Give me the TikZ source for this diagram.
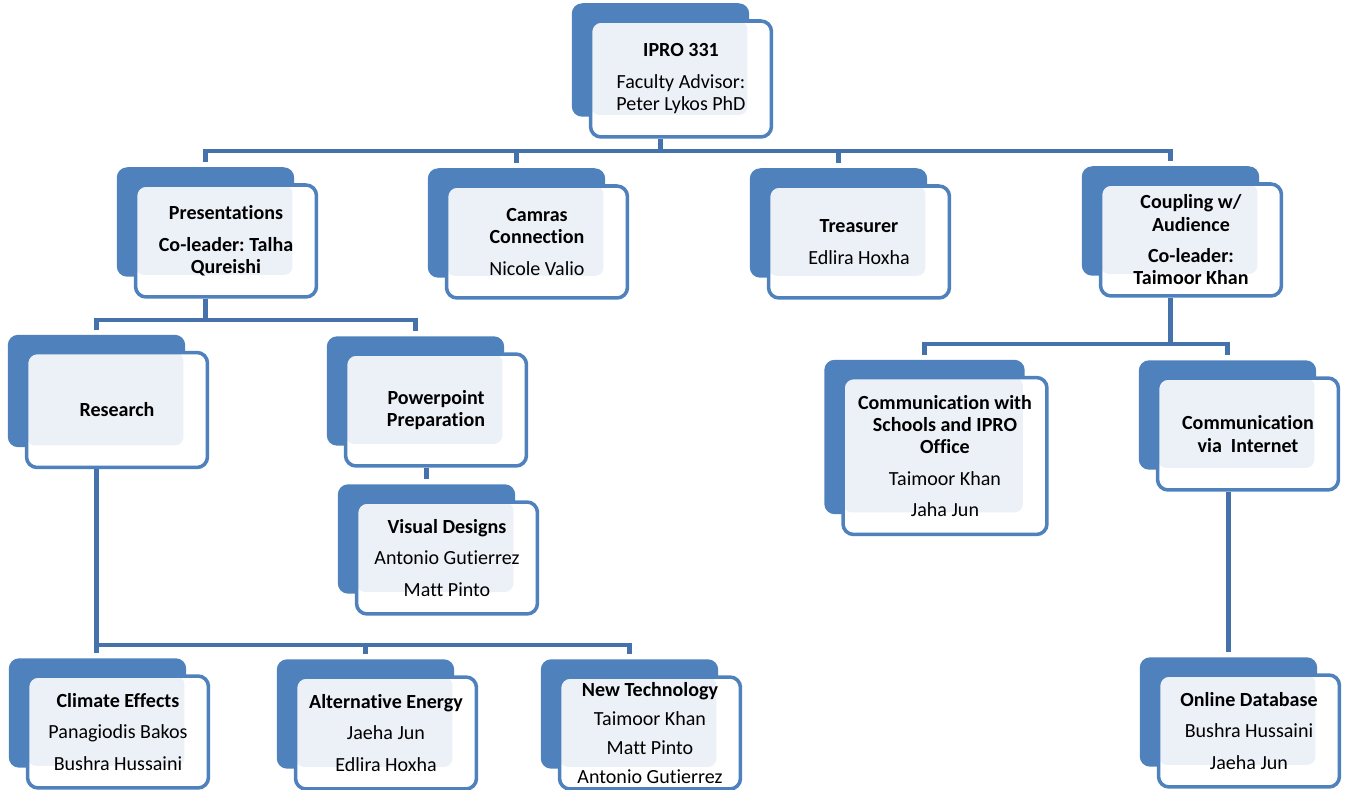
\documentclass[tikz,border=0pt]{standalone}
\usepackage{fontspec}
\setmainfont{Carlito}[Ligatures={NoCommon, NoContextual}]
\frenchspacing
\usetikzlibrary{calc, backgrounds}
\definecolor{boxblue}{HTML}{4F81BD}
\definecolor{boxlight}{HTML}{ECF0F7}
\definecolor{wireblue}{HTML}{4672AB}
\tikzset{
    my-box/.style={
        draw=boxblue, line width=2pt, fill=white, rounded corners=6pt,
        minimum width=3.62cm, minimum height=2.24cm, inner sep=2pt,
        align=center, font=\fontsize{11.4}{12.6}\selectfont,
        path picture={
            \fill[boxlight, rounded corners=5pt] (path picture bounding box.north west)
                rectangle ($(path picture bounding box.south east) + (-24, -22)$);
        }
    },
    my-back/.style={
        fill=boxblue, rounded corners=6pt
    },
    my-wire/.style={
        draw=wireblue, line width=2.4pt
    },
}

\begin{document}
\begin{tikzpicture}[x=0.02cm, y=-0.02cm]
        \useasboundingbox (0, 0) rectangle (1347, 790);

        % TOP BOX
        \node[my-box, minimum height=2.32cm] (IPRO) at (681, 79)
            {\textbf{IPRO 331}\\[5.5pt] Faculty Advisor:\\ Peter Lykos PhD};

        % SECOND ROW
        \node[my-box] (PRES)     at (226, 241)               {\textbf{Presentations}\\[5.5pt] \textbf{Co-leader: Talha}\\ \textbf{Qureishi}};
        \node[my-box] (CAMRAS)   at ($(PRES) + (311, 1)$)    {\textbf{Camras}\\ \textbf{Connection}\\[5.5pt] Nicole Valio};
        \node[my-box] (TREAS)    at ($(CAMRAS) + (322, 0)$)  {\textbf{Treasurer}\\[5.5pt] Edlira Hoxha};
        \node[my-box] (COUPLING) at (1191, 240)              {\textbf{Coupling w/}\\ \textbf{Audience}\\[5.5pt] \textbf{Co-leader:}\\ \textbf{Taimoor Khan}};

        % THIRD ROW
        \node[my-box, minimum height=2.3cm] (RESEARCH) at (117, 410)  {\textbf{Research}};
        \node[my-box] (PPT)      at (436, 410)               {\textbf{Powerpoint}\\ \textbf{Preparation}};
        \node[my-box] (VISUAL)   at ($(PPT) + (11, 148)$)    {\textbf{Visual Designs}\\[5.5pt] Antonio Gutierrez\\[5.5pt] Matt Pinto};
        \node[my-box, minimum width=4.08cm, minimum height=3.14cm] (COMMSCH) at (945, 456)
            {\textbf{Communication with}\\ \textbf{Schools and IPRO}\\ \textbf{Office}\\[5.5pt] Taimoor Khan\\[5.5pt] Jaha Jun};
        \node[my-box] (COMMNET)  at (1248, 434)              {\textbf{Communication}\\ \textbf{via\ \ Internet}};

        % BOTTOM ROW
        \node[my-box] (CLIMATE)  at (118, 732)               {\textbf{Climate Effects}\\[5.5pt] Panagiodis Bakos\\[5.5pt] Bushra Hussaini};
        \node[my-box] (ALT)      at ($(CLIMATE) + (268, 1)$) {\textbf{Alternative Energy}\\[5.5pt] Jaeha Jun\\[5.5pt] Edlira Hoxha};
        \node[my-box] (NEWTECH)  at ($(ALT) + (264, 0)$)     {\textbf{New Technology}\\[4pt] Taimoor Khan\\[4pt] Matt Pinto\\[4pt] Antonio Gutierrez};
        \node[my-box] (ONLINE)   at (1249, 731)              {\textbf{Online Database}\\[5.5pt] Bushra Hussaini\\[5.5pt] Jaeha Jun};

        % BLUE BACKING BOXES AND CONNECTOR POINTS
        \begin{scope}[on background layer]
            \foreach \b in {IPRO, PRES, CAMRAS, TREAS, COUPLING, RESEARCH, PPT, VISUAL,
                            COMMSCH, COMMNET, CLIMATE, ALT, NEWTECH, ONLINE}{
                \fill[my-back] ($(\b.north west) + (-17, -16)$) rectangle ($(\b.south east) + (-24, -22)$);
                \coordinate (\b IN)  at ($(\b.north) + (-20.5, -21)$);
                \coordinate (\b OUT) at ($(\b.south) + (-20.5, 0)$);
            }
        \end{scope}

        % WIRES - TOP LEVEL
        \coordinate (TOPBUS) at ($(IPROOUT) + (0, 12)$);
        \draw[my-wire] (IPROOUT) -- (TOPBUS);
        \draw[my-wire] (PRESIN) |- (TOPBUS) -| (COUPLINGIN);
        \draw[my-wire] (CAMRASIN) -- (CAMRASIN |- TOPBUS);
        \draw[my-wire] (TREASIN) -- (TREASIN |- TOPBUS);

        % WIRES - PRESENTATIONS
        \coordinate (PRESBUS) at ($(PRESOUT) + (0, 21)$);
        \draw[my-wire] (PRESOUT) -- (PRESBUS);
        \draw[my-wire] (RESEARCHIN) |- (PRESBUS) -| (PPTIN);
        \draw[my-wire] (VISUALIN) -- (VISUALIN |- PPTOUT);

        % WIRES - RESEARCH
        \coordinate (RESBUS) at ($(RESEARCHOUT |- CLIMATEIN) + (0, -8)$);
        \draw[my-wire] (RESEARCHOUT) -- (RESEARCHOUT |- CLIMATEIN);
        \draw[my-wire] (RESBUS) -| (NEWTECHIN);
        \draw[my-wire] (ALTIN) -- (ALTIN |- RESBUS);

        % WIRES - COUPLING
        \coordinate (COUPBUS) at ($(COUPLINGOUT) + (0, 46)$);
        \draw[my-wire] (COUPLINGOUT) -- (COUPBUS);
        \draw[my-wire] (COMMSCHIN) |- (COUPBUS) -| (COMMNETIN);
        \draw[my-wire] (ONLINEIN |- COMMNETOUT) -- (ONLINEIN);

\end{tikzpicture}
\end{document}
